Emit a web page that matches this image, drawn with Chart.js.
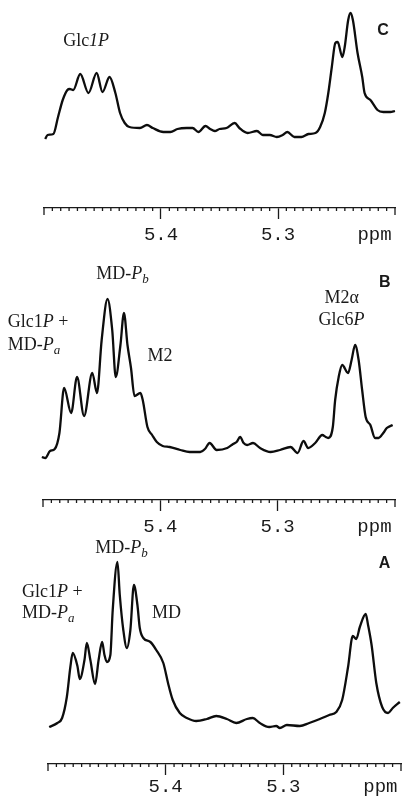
<!DOCTYPE html>
<html>
<head>
<meta charset="utf-8">
<script src="https://cdn.jsdelivr.net/npm/chart.js@4.4.1/dist/chart.umd.min.js"></script>
<style>
  body { margin: 0; background: #fff; }
  #page { position: relative; width: 403px; height: 796px; overflow: hidden; }
  .panel { position: absolute; left: 0; width: 403px; }
</style>
</head>
<body>
<div id="page">
  <div class="panel" style="top:0;height:250px"><canvas id="chartC"></canvas></div>
  <div class="panel" style="top:250px;height:290px"><canvas id="chartB"></canvas></div>
  <div class="panel" style="top:530px;height:266px"><canvas id="chartA"></canvas></div>
</div>
<script>
// Espectro C (Glc1P + Glc6P)
const ppmC = [5.499, 5.497, 5.492, 5.488, 5.484, 5.480, 5.478, 5.475, 5.469, 5.462, 5.455, 5.450, 5.444, 5.439, 5.435, 5.431, 5.427, 5.418, 5.412, 5.407, 5.398, 5.392, 5.386, 5.378, 5.373, 5.368, 5.362, 5.358, 5.354, 5.350, 5.344, 5.337, 5.333, 5.326, 5.318, 5.313, 5.307, 5.301, 5.296, 5.292, 5.286, 5.280, 5.274, 5.268, 5.264, 5.260, 5.257, 5.254, 5.251, 5.249, 5.245, 5.243, 5.240, 5.238, 5.236, 5.232, 5.228, 5.226, 5.221, 5.215, 5.210, 5.204, 5.200];
const intC = [69, 73, 74, 91, 108, 118, 119, 118, 134, 115, 135, 116, 131, 115, 95, 85, 81, 80, 83, 80, 76, 76, 79, 80, 80, 76, 82, 79, 77, 79, 80, 85, 80, 75, 77, 73, 73, 71, 73, 76, 71, 71, 74, 75, 81, 95, 115, 141, 165, 166, 151, 161, 188, 195, 188, 155, 131, 115, 108, 98, 96, 96, 97];

// Espectro B
const ppmB = [5.501, 5.498, 5.494, 5.490, 5.486, 5.482, 5.476, 5.471, 5.465, 5.458, 5.454, 5.450, 5.445, 5.441, 5.438, 5.434, 5.431, 5.428, 5.425, 5.422, 5.417, 5.415, 5.411, 5.407, 5.403, 5.398, 5.392, 5.383, 5.375, 5.366, 5.362, 5.358, 5.352, 5.343, 5.338, 5.335, 5.332, 5.329, 5.326, 5.321, 5.315, 5.306, 5.298, 5.289, 5.283, 5.278, 5.274, 5.268, 5.262, 5.259, 5.257, 5.253, 5.251, 5.248, 5.245, 5.240, 5.237, 5.234, 5.231, 5.228, 5.225, 5.221, 5.217, 5.214, 5.210, 5.207, 5.202];
const intB = [43, 42, 49, 51, 67, 112, 87, 123, 84, 127, 107, 160, 201, 170, 123, 155, 187, 155, 132, 104, 107, 100, 73, 65, 58, 54, 53, 50, 48, 48, 51, 57, 50, 52, 56, 58, 63, 57, 55, 57, 52, 48, 50, 53, 47, 59, 52, 57, 65, 63, 62, 73, 100, 123, 135, 127, 140, 155, 140, 110, 83, 75, 62, 62, 67, 72, 75];

// Espectro A
const ppmA = [5.499, 5.492, 5.488, 5.484, 5.481, 5.479, 5.475, 5.473, 5.469, 5.467, 5.464, 5.460, 5.457, 5.454, 5.452, 5.450, 5.447, 5.445, 5.441, 5.439, 5.436, 5.433, 5.430, 5.427, 5.424, 5.422, 5.419, 5.413, 5.408, 5.402, 5.398, 5.394, 5.388, 5.382, 5.374, 5.365, 5.357, 5.348, 5.340, 5.331, 5.326, 5.320, 5.312, 5.306, 5.303, 5.297, 5.286, 5.278, 5.269, 5.261, 5.255, 5.250, 5.245, 5.241, 5.238, 5.235, 5.230, 5.228, 5.225, 5.221, 5.216, 5.211, 5.207, 5.201];
const intA = [37, 41, 46, 67, 97, 111, 98, 85, 104, 121, 104, 80, 104, 122, 109, 102, 109, 154, 202, 169, 134, 116, 134, 179, 159, 136, 126, 122, 114, 101, 81, 64, 51, 46, 43, 45, 48, 45, 41, 45, 46, 41, 37, 38, 36, 39, 38, 41, 45, 49, 52, 64, 97, 128, 125, 137, 150, 139, 119, 81, 57, 51, 56, 62];

// Eje de ppm
const ppmMin = 5.2;
const ppmMax = 5.5;
const majorTicks = [5.4, 5.3];
const tickLabels = ['5.4', '5.3'];
const unitLabel = 'ppm';
const unitPos = 5.2175;
const minorPerMajor = 14;

// Etiquetas de picos: [texto, estilo]
const labelsC = [
    { ppm: 5.464, h: 162, align: 'center', parts: [['Glc', 'r'], ['1P', 'i']] },
    { ppm: 5.2103, h: 173, align: 'center', parts: [['C', 'b']] }
];
const labelsB = [
    { ppm: 5.4323, h: 221, align: 'center', parts: [['MD-', 'r'], ['P', 'i'], ['b', 's']] },
    { ppm: 5.2087, h: 213, align: 'center', parts: [['B', 'b']] },
    { ppm: 5.5300, h: 173, align: 'left', parts: [['Glc1', 'r'], ['P', 'i'], [' +', 'r']] },
    { ppm: 5.5300, h: 150, align: 'left', parts: [['MD-', 'r'], ['P', 'i'], ['a', 's']] },
    { ppm: 5.4109, h: 139, align: 'left', parts: [['M2', 'r']] },
    { ppm: 5.2455, h: 197, align: 'center', parts: [['M2\u03b1', 'r']] },
    { ppm: 5.2455, h: 175, align: 'center', parts: [['Glc6', 'r'], ['P', 'i']] }
];
const labelsA = [
    { ppm: 5.4376, h: 211, align: 'center', parts: [['MD-', 'r'], ['P', 'i'], ['b', 's']] },
    { ppm: 5.2139, h: 196, align: 'center', parts: [['A', 'b']] },
    { ppm: 5.5221, h: 167, align: 'left', parts: [['Glc1', 'r'], ['P', 'i'], [' +', 'r']] },
    { ppm: 5.5221, h: 146, align: 'left', parts: [['MD-', 'r'], ['P', 'i'], ['a', 's']] },
    { ppm: 5.4117, h: 146, align: 'left', parts: [['MD', 'r']] }
];

const ink = '#1a1a1a';
const fuentes = {
    r: '18px "Liberation Serif"',
    i: 'italic 18px "Liberation Serif"',
    s: 'italic 13px "Liberation Serif"',
    b: 'bold 16px "Liberation Sans"'
};

function dibujarEtiqueta(ctx, px, py, parts, align) {
    let ancho = 0;
    parts.forEach(([t, f]) => { ctx.font = fuentes[f]; ancho += ctx.measureText(t).width; });
    let x = align === 'center' ? px - ancho / 2 : px;
    parts.forEach(([t, f]) => {
        ctx.font = fuentes[f];
        ctx.fillText(t, x, py + (f === 's' ? 4 : 0));
        x += ctx.measureText(t).width;
    });
}

const decoracion = {
    id: 'decoracion',
    afterDraw(chart, args, opts) {
        const ctx = chart.ctx;
        const xs = chart.scales.x;
        const ys = chart.scales.y;
        const lineaY = xs.top;
        ctx.save();
        ctx.strokeStyle = ink;
        ctx.lineWidth = 1.3;
        const n = 3 * minorPerMajor;
        for (let i = 0; i <= n; i++) {
            const esExtremo = i === 0 || i === n;
            if (i % minorPerMajor === 0 && !esExtremo) continue;
            const px = xs.getPixelForValue(ppmMax - i * (0.1 / minorPerMajor));
            const largo = esExtremo ? 7 : 3;
            ctx.beginPath();
            ctx.moveTo(px, lineaY);
            ctx.lineTo(px, lineaY + largo);
            ctx.stroke();
        }
        ctx.fillStyle = ink;
        ctx.textBaseline = 'alphabetic';
        ctx.textAlign = 'left';
        opts.etiquetas.forEach(e => {
            dibujarEtiqueta(ctx, xs.getPixelForValue(e.ppm), ys.getPixelForValue(e.h), e.parts, e.align);
        });
        ctx.restore();
    }
};

function crearEspectro(id, ppm, intensidad, yMax, altoEje, padEtiqueta, padIzq, padDer, etiquetas) {
    const ctx = document.getElementById(id).getContext('2d');
    return new Chart(ctx, {
        type: 'line',
        data: {
            datasets: [{
                data: ppm.map((p, i) => ({ x: p, y: intensidad[i] })),
                borderColor: '#0d0d0d',
                borderWidth: 2.3,
                pointRadius: 0,
                fill: false,
                cubicInterpolationMode: 'monotone',
                clip: false
            }]
        },
        options: {
            responsive: true,
            maintainAspectRatio: false,
            animation: false,
            events: [],
            layout: { padding: { left: padIzq, right: padDer, top: 0, bottom: 0 } },
            plugins: {
                legend: { display: false },
                tooltip: { enabled: false },
                decoracion: { etiquetas: etiquetas }
            },
            scales: {
                x: {
                    type: 'linear',
                    reverse: true,
                    min: ppmMin,
                    max: ppmMax,
                    afterBuildTicks: s => {
                        s.ticks = majorTicks.concat([unitPos]).map(v => ({ value: v }));
                    },
                    afterFit: s => { s.height = altoEje; },
                    ticks: {
                        autoSkip: false,
                        maxRotation: 0,
                        padding: padEtiqueta,
                        color: ink,
                        font: { family: '"Liberation Mono"', size: 19 },
                        callback: (v, i) => i < tickLabels.length ? tickLabels[i] : unitLabel
                    },
                    grid: {
                        drawOnChartArea: false,
                        drawTicks: true,
                        tickLength: 11,
                        tickWidth: 1.3,
                        tickColor: c => c.index < majorTicks.length ? ink : 'rgba(0,0,0,0)'
                    },
                    border: { display: true, color: ink, width: 1.3 }
                },
                y: { display: false, min: 0, max: yMax }
            }
        },
        plugins: [decoracion]
    });
}

crearEspectro('chartC', ppmC, intC, 208, 42, 5, 44, 8, labelsC);
crearEspectro('chartB', ppmB, intB, 250, 40, 5, 43, 8, labelsB);
crearEspectro('chartA', ppmA, intA, 234, 32, 1, 48, 2, labelsA);
</script>
</body>
</html>
